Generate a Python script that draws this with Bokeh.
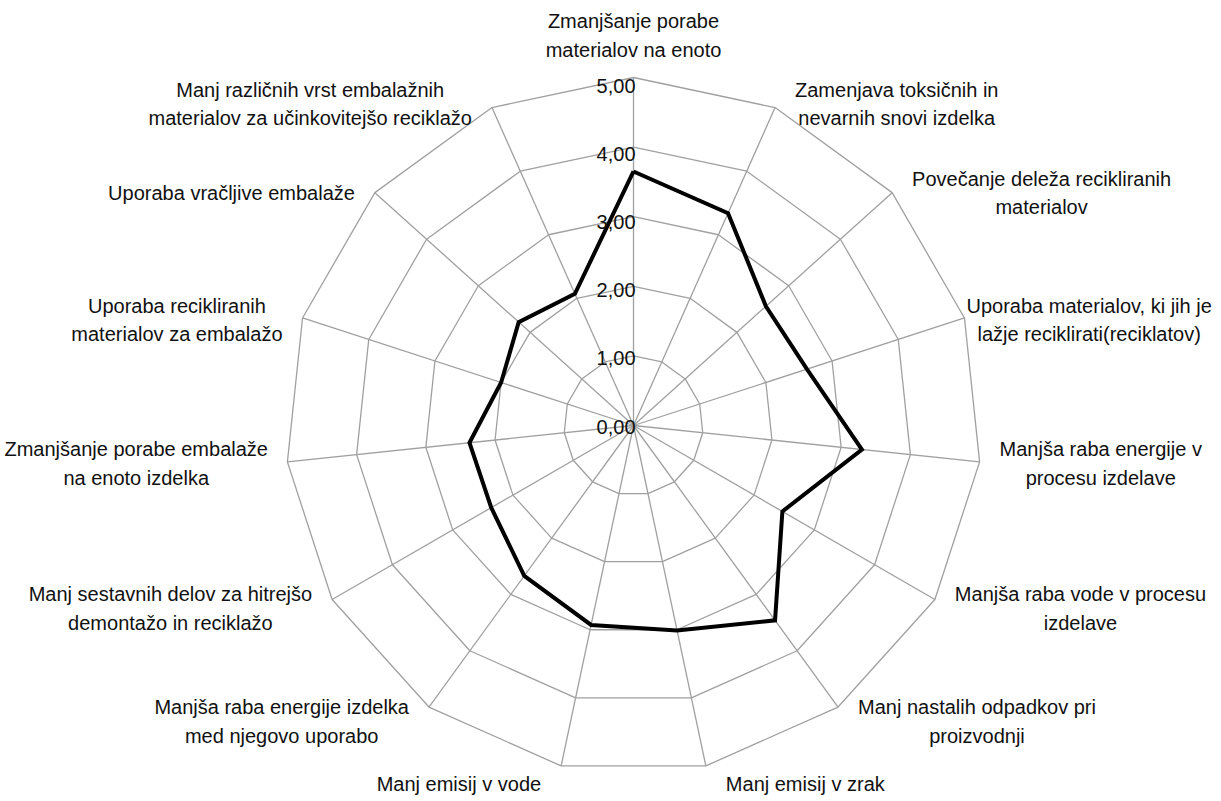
import math
from bokeh.plotting import figure
from bokeh.models import Range1d
from bokeh.embed import file_html
from bokeh.resources import INLINE
from bokeh.core.properties import value

# ---------------- data ----------------
categories = [
    "Zmanjšanje porabe\nmaterialov na enoto",
    "Zamenjava toksičnih in\nnevarnih snovi izdelka",
    "Povečanje deleža recikliranih\nmaterialov",
    "Uporaba materialov, ki jih je\nlažje reciklirati(reciklatov)",
    "Manjša raba energije v\nprocesu izdelave",
    "Manjša raba vode v procesu\nizdelave",
    "Manj nastalih odpadkov pri\nproizvodnji",
    "Manj emisij v zrak",
    "Manj emisij v vode",
    "Manjša raba energije izdelka\nmed njegovo uporabo",
    "Manj sestavnih delov za hitrejšo\ndemontažo in reciklažo",
    "Zmanjšanje porabe embalaže\nna enoto izdelka",
    "Uporaba recikliranih\nmaterialov za embalažo",
    "Uporaba vračljive embalaže",
    "Manj različnih vrst embalažnih\nmaterialov za učinkovitejšo reciklažo",
]
values = [3.65, 3.34, 2.56, 2.62, 3.30, 2.47, 3.46, 3.01, 2.93, 2.67, 2.36, 2.37, 2.00, 2.22, 2.07]
tick_values = [0, 1, 2, 3, 4, 5]
tick_labels = ["0,00", "1,00", "2,00", "3,00", "4,00", "5,00"]

# ---------------- layout ----------------
W, H = 1215, 797
S = 69.6            # pixels per unit
CX, CY = 633, 425   # centre of radar in canvas pixels
FONT = "Liberation Sans"
FS = 20
LINE_H = 26
GRID = "#A0A0A0"
TXT = "#111111"
RMAX = tick_values[-1]

# Liberation Sans metrics (1/1000 em)
_W = dict(a=556, b=556, c=500, d=556, e=556, f=278, g=556, h=556, i=222, j=222, k=500,
          l=222, m=833, n=556, o=556, p=556, q=556, r=333, s=500, t=278, u=556, v=500,
          w=722, x=500, y=500, z=500)
_W.update({"š": 500, "č": 500, "ž": 500, "M": 833, "P": 667, "U": 722, "Z": 611,
           " ": 278, ",": 278, "(": 333, ")": 333})


def text_w(t):
    return max(sum(_W.get(ch, 556) for ch in line) for line in t.split("\n")) / 1000 * FS


p = figure(width=W, height=H, output_backend="svg", toolbar_location=None,
           x_axis_type=None, y_axis_type=None, min_border=0,
           x_range=Range1d(-CX / S, (W - CX) / S), y_range=Range1d(-(H - CY) / S, CY / S))
p.grid.visible = False
p.outline_line_color = None
p.background_fill_color = "white"
p.border_fill_color = "white"

n = len(categories)
ang = [2 * math.pi * i / n for i in range(n)]

# grid rings
ring_xs, ring_ys = [], []
for k in tick_values[1:]:
    ring_xs.append([k * math.sin(a) for a in ang] + [0])
    ring_ys.append([k * math.cos(a) for a in ang] + [k])
p.multi_line(ring_xs, ring_ys, line_color=GRID, line_width=1.3)

# spokes
p.multi_line([[0, RMAX * math.sin(a)] for a in ang], [[0, RMAX * math.cos(a)] for a in ang],
             line_color=GRID, line_width=1.3)

# data polygon
dx = [v * math.sin(a) for v, a in zip(values, ang)]
dy = [v * math.cos(a) for v, a in zip(values, ang)]
p.line(dx + dx[:1], dy + dy[:1], line_color="black", line_width=4, line_join="miter")

# tick labels
p.text(x=[2 / S] * len(tick_values), y=[t - (1 + 1.5 * t) / S for t in tick_values],
       text=tick_labels, text_align="right", text_baseline="middle", text_font=value(FONT),
       text_font_size=f"{FS}px", text_color=TXT)

# category labels
lx, ly = [], []
GAP = 20
for lab, a in zip(categories, ang):
    s_, c_ = math.sin(a), math.cos(a)
    vx, vy = RMAX * s_ * S, RMAX * c_ * S
    nl = lab.count("\n") + 1
    hh = nl * LINE_H
    w = text_w(lab)
    if abs(s_) < 0.05:
        cx, cy = vx, vy + 16 + hh / 2
    else:
        side = 1 if s_ > 0 else -1
        cx = vx + side * (GAP + w / 2)
        cy = vy + (8 * c_ ** 4 - 2 if c_ > 0 else 18 * c_)
    # keep the label inside the chart area
    cx = max(-CX + 4 + w / 2, min(W - CX - 3 - w / 2, cx))
    lx.append(cx / S)
    ly.append(cy / S)

p.text(x=lx, y=ly, text=categories, text_align="center", text_baseline="middle",
       text_font=value(FONT), text_font_size=f"{FS}px", text_line_height=LINE_H / FS,
       text_color=TXT)

open("out.html", "w").write(file_html(p, INLINE))
